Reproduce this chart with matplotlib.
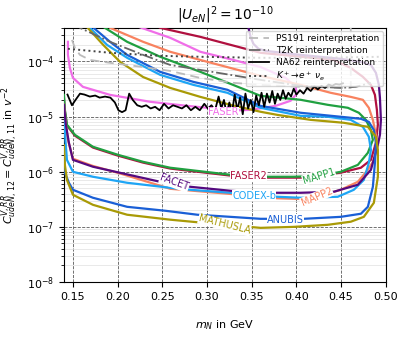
import matplotlib
matplotlib.use("Agg")
import matplotlib.pyplot as plt

# ── sensitivity contours (upper branch -> right turn -> lower branch) ───────
mathusla_m = [0.1636, 0.1838, 0.2028, 0.2286, 0.2589, 0.2926, 0.3262, 0.3599, 0.3789, 0.4160,
              0.4530, 0.4799, 0.4889, 0.4911, 0.4911, 0.4866, 0.4754, 0.4608, 0.4350, 0.3969,
              0.3599, 0.3195, 0.2589, 0.2107, 0.1725, 0.1501, 0.1434, 0.1411, 0.1400]
mathusla_c = [4.6e-4, 2.0e-4, 9.8e-5, 5.2e-5, 3.3e-5, 2.27e-5, 1.63e-5, 1.22e-5, 1.07e-5, 8.7e-6,
              7.7e-6, 6.5e-6, 4.3e-6, 2.5e-6, 8.1e-7, 2.73e-7, 1.52e-7, 1.24e-7, 1.09e-7, 1.0e-7,
              9.6e-8, 1.09e-7, 1.35e-7, 1.66e-7, 2.51e-7, 3.82e-7, 7.1e-7, 1.33e-6, 3.0e-6]

anubis_m = [0.1692, 0.1916, 0.2107, 0.2477, 0.2847, 0.3229, 0.3599, 0.4047, 0.4496, 0.4721,
            0.4810, 0.4866, 0.4889, 0.4878, 0.4855, 0.4799, 0.4721, 0.4496, 0.4081, 0.3599,
            0.3262, 0.2892, 0.2533, 0.2107, 0.1725, 0.1501, 0.1456, 0.1411, 0.1400]
anubis_c = [4.6e-4, 2.26e-4, 1.31e-4, 6.45e-5, 4.25e-5, 3.05e-5, 1.56e-5, 1.17e-5, 9.9e-6, 9.1e-6,
            8.0e-6, 5.7e-6, 3.34e-6, 1.45e-6, 5.33e-7, 2.31e-7, 1.73e-7, 1.52e-7, 1.4e-7, 1.4e-7,
            1.52e-7, 1.66e-7, 1.96e-7, 2.31e-7, 3.37e-7, 4.7e-7, 6.3e-7, 9.55e-7, 2.5e-6]

codexb_m = [0.1658, 0.1882, 0.2107, 0.2477, 0.2847, 0.3229, 0.3599, 0.4047, 0.4350, 0.4608,
            0.4743, 0.4810, 0.4833, 0.4810, 0.4754, 0.4642, 0.4462, 0.4047, 0.3520, 0.3262,
            0.2813, 0.2589, 0.2107, 0.1725, 0.1501, 0.1434, 0.1417, 0.1400]
codexb_c = [4.6e-4, 1.99e-4, 1.16e-4, 5.69e-5, 3.75e-5, 2.69e-5, 1.44e-5, 1.03e-5, 9.9e-6, 8.7e-6,
            6.5e-6, 4.29e-6, 2.49e-6, 1.45e-6, 7.1e-7, 4.7e-7, 3.51e-7, 3.37e-7, 3.66e-7, 4.15e-7,
            4.7e-7, 5.11e-7, 6.3e-7, 8.1e-7, 9.96e-7, 1.64e-6, 3.79e-6, 1.07e-5]

mapp1_m = [0.1804, 0.2107, 0.2477, 0.2926, 0.3599, 0.4047, 0.4350, 0.4575, 0.4698, 0.4777,
           0.4833, 0.4855, 0.4799, 0.4687, 0.4496, 0.4249, 0.3969, 0.3689, 0.3262, 0.2589,
           0.2286, 0.2006, 0.1725, 0.1523, 0.1434, 0.1411, 0.1400]
mapp1_c = [4.6e-4, 2.26e-4, 1.21e-4, 6.45e-5, 2.37e-5, 2.01e-5, 1.63e-5, 1.44e-5, 1.17e-5, 8.7e-6,
           5.7e-6, 3.79e-6, 2.2e-6, 1.33e-6, 9.96e-7, 8.4e-7, 8.1e-7, 8.1e-7, 8.8e-7, 1.18e-6,
           1.51e-6, 2.02e-6, 2.83e-6, 4.66e-6, 7.1e-6, 1.32e-5, 2.47e-5]

faser2_m = [0.2365, 0.2477, 0.2926, 0.3599, 0.4418, 0.4608, 0.4743, 0.4833, 0.4878, 0.4900,
            0.4911, 0.4889, 0.4833, 0.4721, 0.4496, 0.4047, 0.3689, 0.3464, 0.3262, 0.2589,
            0.2286, 0.2006, 0.1725, 0.1523, 0.1434, 0.1411, 0.1400]
faser2_c = [5.2e-4, 4.05e-4, 2.78e-4, 1.43e-4, 1.06e-4, 7.6e-5, 5.24e-5, 3.75e-5, 2.47e-5, 1.32e-5,
            7.1e-6, 3.34e-6, 1.64e-6, 1.18e-6, 9.6e-7, 7.8e-7, 7.8e-7, 8.2e-7, 8.5e-7, 1.14e-6,
            1.46e-6, 1.95e-6, 2.74e-6, 4.5e-6, 6.9e-6, 1.25e-5, 2.2e-5]

facet_m = [0.3442, 0.3464, 0.3487, 0.3520, 0.3576, 0.3655, 0.4047, 0.4496, 0.4721, 0.4833,
           0.4889, 0.4922, 0.4934, 0.4945, 0.4934, 0.4911, 0.4833, 0.4687, 0.4418, 0.4047,
           0.3655, 0.3262, 0.2813, 0.2634, 0.2477, 0.2028, 0.1725, 0.1501, 0.1456, 0.1422, 0.1400]
facet_c = [5.65e-4, 4.05e-4, 2.78e-4, 2.07e-4, 1.69e-4, 1.55e-4, 1.31e-4, 1.11e-4, 9.8e-5, 8.6e-5,
           6.19e-5, 3.75e-5, 2.18e-5, 8.7e-6, 4.66e-6, 3.07e-6, 1.08e-6, 5.8e-7, 4.33e-7, 4.15e-7,
           4.15e-7, 4.51e-7, 5.33e-7, 6.1e-7, 6.56e-7, 9.55e-7, 1.23e-6, 1.64e-6, 3.34e-6, 7.1e-6, 1.63e-5]

mapp2_m = [0.1871, 0.1916, 0.2286, 0.2589, 0.2926, 0.3262, 0.3599, 0.4047, 0.4384, 0.4608,
           0.4743, 0.4810, 0.4855, 0.4889, 0.4900, 0.4855, 0.4799, 0.4687, 0.4496, 0.4227,
           0.4047, 0.3789, 0.3262, 0.2589, 0.2028, 0.1725, 0.1501, 0.1445, 0.1422, 0.1400]
mapp2_c = [5.2e-4, 4.05e-4, 2.26e-4, 1.49e-4, 1.06e-4, 7.6e-5, 5.46e-5, 3.75e-5, 2.69e-5, 2.27e-5,
           2.01e-5, 1.44e-5, 8.7e-6, 4.66e-6, 2.49e-6, 1.51e-6, 1.08e-6, 6.56e-7, 4.7e-7, 3.5e-7,
           3.2e-7, 3.3e-7, 3.95e-7, 4.9e-7, 9.3e-7, 1.27e-6, 1.72e-6, 3.79e-6, 7.1e-6, 1.63e-5]

faser_m = [0.1445, 0.1445, 0.1467, 0.1501, 0.1613, 0.1916, 0.2365, 0.2780, 0.3004, 0.3184,
           0.3487, 0.3767, 0.3935, 0.4003, 0.3991, 0.3879, 0.3599, 0.3296, 0.2926, 0.2589,
           0.2365, 0.2174]
faser_c = [2.26e-4, 1.31e-4, 7.6e-5, 5.02e-5, 3.45e-5, 2.47e-5, 1.85e-5, 1.56e-5, 1.44e-5, 1.27e-5,
           1.32e-5, 1.56e-5, 1.93e-5, 2.58e-5, 3.45e-5, 5.02e-5, 7.9e-5, 1.06e-4, 1.49e-4, 2.67e-4,
           3.57e-4, 4.58e-4]

# ── reinterpretations of existing searches ──────────────────────────────────
ps191_m = [0.1490, 0.1523, 0.1579, 0.1692, 0.1916, 0.2286, 0.2589, 0.2926, 0.3296, 0.3599,
           0.4047, 0.4496, 0.4608, 0.4608]
ps191_c = [2.45e-4, 1.76e-4, 1.31e-4, 1.06e-4, 9.4e-5, 7.9e-5, 6.7e-5, 5.0e-5, 4.08e-5, 3.75e-5,
           3.45e-5, 3.31e-5, 3.31e-5, 5.65e-4]

t2k_m = [0.1535, 0.1579, 0.1916, 0.2286, 0.2589, 0.2926, 0.3599, 0.4047, 0.4496, 0.4664, 0.4833]
t2k_c = [5.65e-4, 4.05e-4, 2.26e-4, 1.31e-4, 8.6e-5, 7.0e-5, 4.62e-5, 3.6e-5, 3.31e-5, 3.45e-5, 4.08e-5]

kenu_m = [0.1445, 0.1692, 0.1916, 0.2477, 0.2926, 0.3599, 0.4272, 0.4930]
kenu_c = [1.69e-4, 1.55e-4, 1.43e-4, 1.26e-4, 1.21e-4, 1.16e-4, 1.16e-4, 1.21e-4]

na62_m = [0.144, 0.149, 0.153, 0.158, 0.163, 0.169, 0.175, 0.180, 0.186, 0.192,
          0.197, 0.201, 0.205, 0.209, 0.213, 0.217, 0.222, 0.227, 0.232, 0.237,
          0.242, 0.247, 0.252, 0.257, 0.262, 0.267, 0.272, 0.277, 0.282, 0.287,
          0.292, 0.297, 0.301, 0.305, 0.309, 0.313, 0.316, 0.319, 0.322, 0.325,
          0.328, 0.331, 0.334, 0.337, 0.340, 0.343, 0.346, 0.349, 0.352, 0.355,
          0.358, 0.361, 0.364, 0.367, 0.370, 0.373, 0.376, 0.379, 0.382, 0.385,
          0.388, 0.391, 0.394, 0.397, 0.400, 0.404, 0.408, 0.412, 0.416, 0.420,
          0.424, 0.428, 0.432, 0.436, 0.440, 0.444, 0.448, 0.452]
na62_c = [2.5e-5, 1.6e-5, 2.0e-5, 2.6e-5, 2.5e-5, 2.3e-5, 2.4e-5, 2.2e-5, 2.3e-5, 2.2e-5,
          1.8e-5, 1.3e-5, 1.2e-5, 1.3e-5, 2.6e-5, 2.0e-5, 1.6e-5, 1.5e-5, 1.6e-5, 1.4e-5,
          1.5e-5, 1.3e-5, 1.7e-5, 1.4e-5, 1.6e-5, 1.5e-5, 1.4e-5, 1.6e-5, 1.3e-5, 1.5e-5,
          1.3e-5, 1.7e-5, 1.4e-5, 1.6e-5, 1.3e-5, 2.3e-5, 1.4e-5, 2.0e-5, 1.1e-5, 1.8e-5,
          1.2e-5, 2.5e-5, 1.3e-5, 2.2e-5, 1.1e-5, 2.6e-5, 1.4e-5, 2.0e-5, 1.2e-5, 2.4e-5,
          1.6e-5, 2.7e-5, 1.5e-5, 2.6e-5, 1.8e-5, 2.9e-5, 1.7e-5, 2.6e-5, 2.0e-5, 3.0e-5,
          2.1e-5, 2.7e-5, 2.3e-5, 3.2e-5, 2.5e-5, 3.0e-5, 2.6e-5, 3.3e-5, 2.9e-5, 3.5e-5,
          3.1e-5, 3.6e-5, 3.3e-5, 3.8e-5, 3.6e-5, 3.9e-5, 3.8e-5, 4.0e-5]

# name, colour, curve, inline label position / rotation  (drawing order)
EXPERIMENTS = [
    ("FASER", "#f06ee8", faser_m, faser_c, (0.3184, 1.2e-5), 0),
    ("FASER2", "#b0103f", faser2_m, faser2_c, (0.3464, 8.4e-7), 0),
    ("MAPP1", "#20a040", mapp1_m, mapp1_c, (0.425, 8.4e-7), 17),
    ("MAPP2", "#f8825f", mapp2_m, mapp2_c, (0.4227, 3.5e-7), 23),
    ("CODEX-b", "#1ea5f5", codexb_m, codexb_c, (0.3526, 3.66e-7), 0),
    ("FACET", "#550a7f", facet_m, facet_c, (0.2634, 6.3e-7), -20),
    ("ANUBIS", "#1a5fd6", anubis_m, anubis_c, (0.388, 1.35e-7), 0),
    ("MATHUSLA", "#a99a06", mathusla_m, mathusla_c, (0.3195, 1.09e-7), -14),
]

fig = plt.figure(figsize=(4.07, 3.39), dpi=100)
ax = fig.add_axes([0.157, 0.168, 0.791, 0.749])

for i, (name, col, m, c, pos, rot) in enumerate(EXPERIMENTS):
    ax.plot(m, c, color=col, lw=1.6, zorder=3 + 0.01 * i)
    ax.text(pos[0], pos[1], name, color=col, fontsize=7, rotation=rot,
            ha="center", va="center", zorder=5,
            bbox=dict(facecolor="white", edgecolor="none", pad=0.2))

ax.plot(ps191_m, ps191_c, color="#bbbbbb", ls=(0, (5, 3)), lw=1.3, zorder=4,
        label="PS191 reinterpretation")
ax.plot(t2k_m, t2k_c, color="#666666", ls="-.", lw=1.3, zorder=4,
        label="T2K reinterpretation")
ax.plot(na62_m, na62_c, color="black", lw=1.3, zorder=4,
        label="NA62 reinterpretation")
ax.plot(kenu_m, kenu_c, color="#444444", ls=":", lw=1.4, zorder=4,
        label=r"$K^+\!\to\! e^+\,\nu_e$")

ax.set_yscale("log")
ax.set_xlim(0.14, 0.5)
ax.set_ylim(1e-8, 4e-4)
ax.set_xticks([0.15, 0.20, 0.25, 0.30, 0.35, 0.40, 0.45, 0.50])
ax.set_xticklabels(["0.15", "0.20", "0.25", "0.30", "0.35", "0.40", "0.45", "0.50"])
ax.tick_params(labelsize=8)

ax.grid(which="major", ls="--", color="0.35", lw=0.6)
ax.grid(which="minor", ls="-", color="0.88", lw=0.5)
ax.set_axisbelow(True)

ax.set_title(r"$|U_{eN}|^2 = 10^{-10}$", fontsize=10)
ax.set_xlabel(r"$m_N$ in GeV", fontsize=8, labelpad=12)
ax.set_ylabel(r"$C^{V,RR}_{udeN,\,12} = C^{V,RR}_{udeN,\,11}$ in $v^{-2}$", fontsize=8)

leg = ax.legend(loc="upper right", fontsize=6.5, framealpha=0.8, handlelength=2.2,
                borderaxespad=0.3, labelspacing=0.3)
leg.set_zorder(7)

fig.savefig("out.png", dpi=100)
